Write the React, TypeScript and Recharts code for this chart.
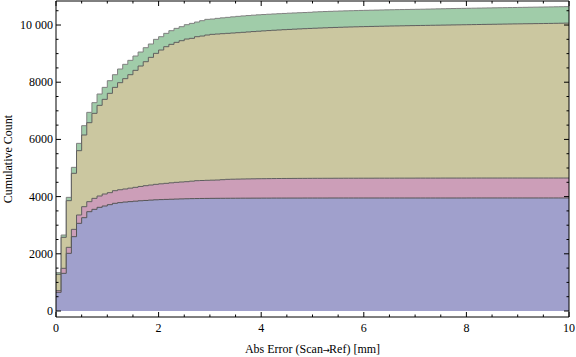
import React from 'react';
import { AreaChart, Area, XAxis, YAxis, Label } from 'recharts';

// Cumulative counts per 0.1 mm bin (stacked totals)
const blueTop = [
  653, 1317, 2016, 2599, 3065, 3263, 3473, 3555, 3625, 3671,
  3718, 3765, 3790, 3810, 3825, 3840, 3855, 3865, 3878, 3888,
  3895, 3902, 3908, 3914, 3920, 3925, 3929, 3932, 3935, 3937,
  3939, 3940, 3941, 3942, 3943, 3944, 3945, 3945, 3946, 3946,
  3947, 3947, 3948, 3948, 3948, 3949, 3949, 3949, 3950, 3950,
  3950, 3950, 3950, 3951, 3951, 3951, 3951, 3951, 3951, 3951,
  3951, 3951, 3951, 3951, 3951, 3951, 3951, 3951, 3951, 3951,
  3951, 3951, 3951, 3951, 3951, 3951, 3951, 3951, 3951, 3951,
  3952, 3952, 3952, 3952, 3952, 3952, 3952, 3952, 3952, 3952,
  3952, 3952, 3952, 3952, 3952, 3952, 3952, 3952, 3952, 3952,
];
const pinkTop = [
  711, 1492, 2226, 2855, 3357, 3648, 3823, 3939, 4021, 4091,
  4138, 4207, 4240, 4266, 4296, 4324, 4355, 4382, 4405, 4429,
  4447, 4464, 4482, 4499, 4511, 4522, 4540, 4557, 4563, 4570,
  4575, 4580, 4592, 4604, 4608, 4612, 4616, 4619, 4622, 4625,
  4627, 4629, 4631, 4633, 4634, 4635, 4636, 4637, 4638, 4639,
  4640, 4640, 4641, 4641, 4642, 4642, 4643, 4643, 4643, 4644,
  4644, 4644, 4645, 4645, 4645, 4645, 4646, 4646, 4646, 4646,
  4647, 4647, 4647, 4647, 4647, 4648, 4648, 4648, 4648, 4648,
  4648, 4649, 4649, 4649, 4649, 4649, 4649, 4650, 4650, 4650,
  4650, 4650, 4650, 4650, 4650, 4650, 4650, 4650, 4650, 4650,
];
const tanTop = [
  1282, 2576, 3858, 4814, 5606, 6154, 6585, 6911, 7191, 7401,
  7611, 7820, 7984, 8124, 8263, 8415, 8566, 8717, 8869, 9009,
  9126, 9242, 9324, 9394, 9452, 9510, 9534, 9592, 9615, 9650,
  9674, 9685, 9697, 9709, 9720, 9732, 9745, 9758, 9771, 9783,
  9795, 9806, 9817, 9827, 9837, 9846, 9855, 9864, 9872, 9880,
  9888, 9895, 9902, 9909, 9915, 9921, 9927, 9932, 9937, 9942,
  9946, 9950, 9954, 9958, 9962, 9966, 9969, 9972, 9976, 9979,
  9982, 9985, 9988, 9991, 9994, 9997, 10000, 10003, 10006, 10009,
  10012, 10015, 10018, 10021, 10024, 10027, 10030, 10033, 10036, 10039,
  10041, 10044, 10046, 10049, 10051, 10054, 10057, 10060, 10063, 10066,
];
const greenTop = [
  1340, 2657, 3974, 5023, 5862, 6480, 6946, 7285, 7587, 7820,
  8054, 8263, 8462, 8625, 8765, 8916, 9056, 9207, 9336, 9499,
  9592, 9709, 9802, 9883, 9942, 10012, 10058, 10105, 10152, 10198,
  10210, 10233, 10250, 10268, 10285, 10303, 10318, 10331, 10344, 10356,
  10367, 10377, 10387, 10396, 10405, 10414, 10422, 10430, 10437, 10444,
  10458, 10465, 10472, 10478, 10484, 10490, 10495, 10500, 10505, 10510,
  10514, 10518, 10522, 10526, 10530, 10534, 10538, 10541, 10544, 10547,
  10550, 10553, 10557, 10561, 10565, 10569, 10573, 10577, 10580, 10583,
  10586, 10589, 10592, 10595, 10598, 10601, 10604, 10607, 10610, 10613,
  10616, 10619, 10622, 10625, 10628, 10631, 10634, 10637, 10640, 10643,
];

const binWidth = 0.1;
const xTicks = [0, 0.5, 1, 1.5, 2, 2.5, 3, 3.5, 4, 4.5, 5, 5.5, 6, 6.5, 7, 7.5, 8, 8.5, 9, 9.5, 10];
const xMajor = [0, 2, 4, 6, 8, 10];
const yTicks = [0, 500, 1000, 1500, 2000, 2500, 3000, 3500, 4000, 4500, 5000, 5500, 6000, 6500, 7000, 7500, 8000, 8500, 9000, 9500, 10000, 10500];
const yMajor = [0, 2000, 4000, 6000, 8000, 10000];
const yLabels: Record<number, string> = { 0: '0', 2000: '2000', 4000: '4000', 6000: '6000', 8000: '8000', 10000: '10 000' };
const xTitleParts = ['Abs Error (Scan', '→', 'Ref) [mm]'];

const data = [
  ...blueTop.map((_, i) => ({
    x: Math.round(i * binWidth * 10) / 10,
    blue: blueTop[i],
    pink: pinkTop[i],
    tan: tanTop[i],
    green: greenTop[i],
  })),
  {
    x: 10,
    blue: blueTop[blueTop.length - 1],
    pink: pinkTop[pinkTop.length - 1],
    tan: tanTop[tanTop.length - 1],
    green: greenTop[greenTop.length - 1],
  },
];

const FONT = "'Liberation Serif', 'Times New Roman', serif";
const MAJ = 5;
const MIN = 2.5;

const isMajorX = (v: number) => xMajor.some((m) => Math.abs(m - v) < 1e-9);
const isMajorY = (v: number) => yMajor.some((m) => Math.abs(m - v) < 1e-9);

const BottomTick = (p: any) => {
  const { x, y, payload } = p;
  const v = payload.value;
  const major = isMajorX(v);
  return (
    <g>
      <line x1={x} y1={y} x2={x} y2={y - (major ? MAJ : MIN)} stroke="#000" strokeWidth={1} />
      {major && (
        <text x={x} y={y + 14.5} textAnchor="middle" fontSize={12} fontFamily={FONT} fill="#000">
          {v}
        </text>
      )}
    </g>
  );
};
const TopTick = (p: any) => {
  const { x, y, payload } = p;
  const major = isMajorX(payload.value);
  return <line x1={x} y1={y} x2={x} y2={y + (major ? MAJ : MIN)} stroke="#000" strokeWidth={1} />;
};
const LeftTick = (p: any) => {
  const { x, y, payload } = p;
  const v = payload.value;
  const major = isMajorY(v);
  return (
    <g>
      <line x1={x} y1={y} x2={x + (major ? MAJ : MIN)} y2={y} stroke="#000" strokeWidth={1} />
      {major && (
        <text x={x - 3} y={y + 4} textAnchor="end" fontSize={12} fontFamily={FONT} fill="#000">
          {yLabels[v]}
        </text>
      )}
    </g>
  );
};
const RightTick = (p: any) => {
  const { x, y, payload } = p;
  const major = isMajorY(payload.value);
  return <line x1={x} y1={y} x2={x - (major ? MAJ : MIN)} y2={y} stroke="#000" strokeWidth={1} />;
};

const XTitle = (p: any) => {
  const vb = p.viewBox || {};
  const cx = (vb.x || 0) + (vb.width || 0) / 2;
  const by = (vb.y || 0) + (vb.height || 0) - 4;
  return (
    <text x={cx} y={by} textAnchor="middle" fontSize={12} fontFamily={FONT} fill="#000">
      <tspan>{xTitleParts[0]}</tspan>
      <tspan fontFamily="'DejaVu Sans', sans-serif" fontSize={8.5} letterSpacing={-0.5} dx={-0.5}>
        {xTitleParts[1]}
      </tspan>
      <tspan>{xTitleParts[2]}</tspan>
    </text>
  );
};

export default function App() {
  return (
    <div style={{ position: 'absolute', left: 0, top: 0, background: '#fff' }}>
      <AreaChart width={576} height={357} data={data} margin={{ top: 0, right: 0, bottom: 0, left: 0 }}>
        <XAxis
          xAxisId="b"
          dataKey="x"
          type="number"
          domain={[0, 10]}
          allowDataOverflow
          ticks={xTicks}
          interval={0}
          height={40}
          tickSize={0}
          tickMargin={0}
          tickLine={false}
          axisLine={{ stroke: '#000' }}
          tick={(p: any) => <BottomTick {...p} />}
        >
          <Label content={(p: any) => <XTitle {...p} />} position="insideBottom" />
        </XAxis>
        <XAxis
          xAxisId="t"
          orientation="top"
          dataKey="x"
          type="number"
          domain={[0, 10]}
          allowDataOverflow
          ticks={xTicks}
          interval={0}
          height={1}
          tickSize={0}
          tickMargin={0}
          tickLine={false}
          axisLine={{ stroke: '#000' }}
          tick={(p: any) => <TopTick {...p} />}
        />
        <YAxis
          yAxisId="l"
          type="number"
          domain={[-210, 10840]}
          allowDataOverflow
          ticks={yTicks}
          interval={0}
          width={56}
          tickSize={0}
          tickMargin={0}
          tickLine={false}
          axisLine={{ stroke: '#000' }}
          tick={(p: any) => <LeftTick {...p} />}
        >
          <Label
            value="Cumulative Count"
            angle={-90}
            position="insideLeft"
            offset={8}
            style={{ fontSize: 12, fontFamily: FONT, fill: '#000', textAnchor: 'middle' }}
          />
        </YAxis>
        <YAxis
          yAxisId="r"
          orientation="right"
          type="number"
          domain={[-210, 10840]}
          allowDataOverflow
          ticks={yTicks}
          interval={0}
          width={7}
          tickSize={0}
          tickMargin={0}
          tickLine={false}
          axisLine={{ stroke: '#000' }}
          tick={(p: any) => <RightTick {...p} />}
        />
        <Area
          xAxisId="b"
          yAxisId="l"
          type="stepAfter"
          dataKey="green"
          fill="#a0cca9"
          fillOpacity={1}
          stroke="#808080"
          strokeWidth={1}
          isAnimationActive={false}
          dot={false}
          activeDot={false}
        />
        <Area
          xAxisId="b"
          yAxisId="l"
          type="stepAfter"
          dataKey="tan"
          fill="#cbc7a0"
          fillOpacity={1}
          stroke="#5f5f5f"
          strokeWidth={1}
          isAnimationActive={false}
          dot={false}
          activeDot={false}
        />
        <Area
          xAxisId="b"
          yAxisId="l"
          type="stepAfter"
          dataKey="pink"
          fill="#cc9eb8"
          fillOpacity={1}
          stroke="#5f5f5f"
          strokeWidth={1}
          isAnimationActive={false}
          dot={false}
          activeDot={false}
        />
        <Area
          xAxisId="b"
          yAxisId="l"
          type="stepAfter"
          dataKey="blue"
          fill="#a0a0cc"
          fillOpacity={1}
          stroke="#555555"
          strokeWidth={1}
          isAnimationActive={false}
          dot={false}
          activeDot={false}
        />
      </AreaChart>
    </div>
  );
}
